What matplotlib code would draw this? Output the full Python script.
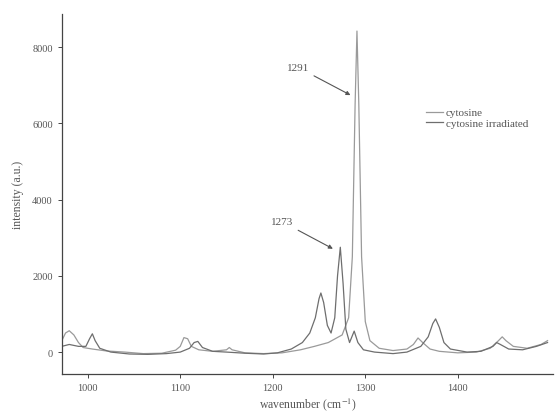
import matplotlib
matplotlib.use("Agg")
import matplotlib.pyplot as plt

plt.rcParams['font.family'] = ['Liberation Serif', 'DejaVu Serif']
plt.rcParams['mathtext.fontset'] = 'stix'

# cytosine spectrum (wavenumber, intensity)
cyt_x = [972, 976, 980, 985, 990, 995, 1000, 1005, 1020, 1040, 1060, 1080, 1095, 1100,
         1104, 1108, 1112, 1120, 1135, 1150, 1153, 1156, 1170, 1190, 1210, 1230, 1245,
         1260, 1275, 1282, 1286, 1289, 1291, 1293, 1296, 1300, 1305, 1315, 1330, 1345,
         1352, 1357, 1362, 1370, 1380, 1400, 1420, 1435, 1444, 1448, 1452, 1460, 1475,
         1490, 1497]
cyt_y = [300, 500, 560, 450, 250, 120, 100, 80, 30, 0, -40, -30, 50, 150,
         380, 350, 150, 60, 20, 60, 120, 60, -20, -40, -20, 60, 150,
         250, 450, 900, 2500, 6500, 8420, 6500, 2500, 800, 300, 100, 40, 80,
         200, 370, 250, 80, 20, -20, 0, 100, 300, 400, 300, 150, 100,
         200, 300]

# irradiated cytosine spectrum
irr_x = [972, 980, 990, 998, 1002, 1005, 1008, 1013, 1025, 1045, 1065, 1085, 1100, 1110,
         1115, 1119, 1124, 1135, 1150, 1170, 1190, 1205, 1220, 1232, 1240, 1246, 1250,
         1252, 1255, 1259, 1263, 1267, 1270, 1273, 1276, 1279, 1283, 1288, 1292, 1298,
         1310, 1330, 1345, 1360, 1368, 1373, 1376, 1380, 1385, 1392, 1410, 1425, 1438,
         1442, 1446, 1455, 1470, 1485, 1497]
irr_y = [150, 200, 150, 150, 350, 480, 300, 100, 0, -50, -60, -40, 0, 100,
         250, 280, 120, 20, 0, -30, -50, -20, 80, 250, 500, 900, 1400,
         1550, 1300, 700, 500, 900, 2000, 2750, 1800, 600, 250, 550, 250, 60,
         0, -40, 0, 150, 400, 750, 870, 650, 250, 80, 0, 20, 150,
         250, 200, 80, 60, 150, 250]

labels = ["cytosine", "cytosine irradiated"]
x_ticks = [1000, 1100, 1200, 1300, 1400]
y_ticks = [0, 2000, 4000, 6000, 8000]

fig = plt.figure(figsize=(5.57, 4.14), dpi=100)
ax = fig.add_axes([0.111, 0.094, 0.882, 0.870])

ax.plot(cyt_x, cyt_y, color='#9a9a9a', lw=0.9, label=labels[0])
ax.plot(irr_x, irr_y, color='#6e6e6e', lw=0.9, label=labels[1])

ax.set_xlim(972, 1503)
ax.set_ylim(-577, 8870)
ax.set_xticks(x_ticks)
ax.set_yticks(y_ticks)

tc = '#555555'
for s in ['top', 'right']:
    ax.spines[s].set_visible(False)
for s in ['left', 'bottom']:
    ax.spines[s].set_color('#444444')
    ax.spines[s].set_linewidth(0.9)
ax.tick_params(colors='#444444', labelcolor=tc, labelsize=7.5, length=3, width=0.7)

ax.set_xlabel('wavenumber (cm$^{-1}$)', color=tc, fontsize=8.5, labelpad=2)
ax.set_ylabel('intensity (a.u.)', color=tc, fontsize=8.5, labelpad=6)

arrow = dict(arrowstyle='-|>', color='#555555', lw=0.8, mutation_scale=6, shrinkA=2, shrinkB=0)
ax.annotate('1291', xy=(1284, 6740), xytext=(1227, 7470), color=tc, fontsize=8,
            ha='center', va='center', arrowprops=arrow)
ax.annotate('1273', xy=(1265, 2710), xytext=(1210, 3420), color=tc, fontsize=8,
            ha='center', va='center', arrowprops=arrow)

leg = ax.legend(loc='upper left', bbox_to_anchor=(0.73, 0.755), frameon=False,
                fontsize=8, handlelength=1.5, handletextpad=0.3, labelspacing=0.1,
                borderpad=0)
for t in leg.get_texts():
    t.set_color(tc)

fig.savefig('out.png', dpi=100)
